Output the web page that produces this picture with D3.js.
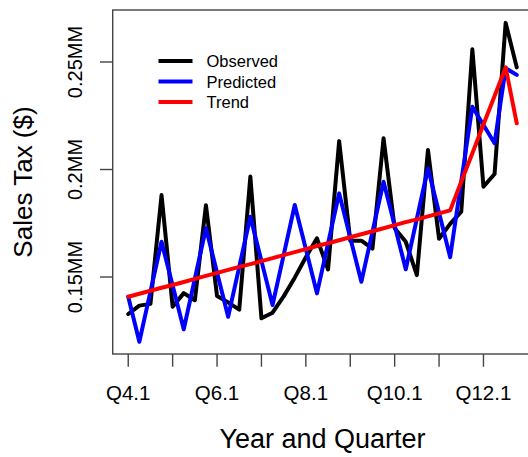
<!DOCTYPE html>
<html>
<head>
<meta charset="utf-8">
<script src="https://cdn.jsdelivr.net/npm/d3@7"></script>
<style>
  html, body { margin: 0; padding: 0; background: #fff; }
  svg { display: block; }
  text { font-family: "Liberation Sans", Arial, sans-serif; fill: #000; }
</style>
</head>
<body>
<svg id="chart" width="528" height="457"></svg>
<script>
// ---- data (values in millions of $) ----
const quarterLabels = ["Q4.1","Q4.2","Q4.3","Q4.4","Q5.1","Q5.2","Q5.3","Q5.4","Q6.1","Q6.2","Q6.3","Q6.4",
  "Q7.1","Q7.2","Q7.3","Q7.4","Q8.1","Q8.2","Q8.3","Q8.4","Q9.1","Q9.2","Q9.3","Q9.4",
  "Q10.1","Q10.2","Q10.3","Q10.4","Q11.1","Q11.2","Q11.3","Q11.4","Q12.1","Q12.2","Q12.3","Q12.4"];
const observed = [0.1328,0.1367,0.1375,0.1881,0.1362,0.1425,0.1392,0.1834,0.1412,0.1382,0.1348,0.1967,
  0.1308,0.1334,0.1410,0.1497,0.1592,0.1680,0.1535,0.2132,0.1669,0.1669,0.1632,0.2145,
  0.1727,0.1664,0.1509,0.2091,0.1678,0.1747,0.1804,0.2559,0.1920,0.1979,0.2682,0.2475];
const predicted = [0.1408,0.1199,0.1432,0.1664,0.1460,0.1257,0.1492,0.1727,0.1521,0.1315,0.1547,0.1780,
  0.1575,0.1370,0.1602,0.1835,0.1630,0.1424,0.1656,0.1889,0.1683,0.1478,0.1710,0.1943,
  0.1740,0.1536,0.1771,0.2006,0.1799,0.1592,0.1945,0.2292,0.2207,0.2122,0.2471,0.2440];
const trend = [0.1408,0.1422,0.1436,0.1450,0.1463,0.1477,0.1491,0.1505,0.1519,0.1533,0.1547,0.1560,
  0.1574,0.1588,0.1602,0.1616,0.1630,0.1644,0.1657,0.1671,0.1685,0.1699,0.1713,0.1727,
  0.1741,0.1755,0.1768,0.1782,0.1796,0.1810,0.1943,0.2076,0.2209,0.2342,0.2475,0.2215];
const xTickIndex = [0,4,8,12,16,20,24,28,32];
const xTickLabels = ["Q4.1","","Q6.1","","Q8.1","","Q10.1","","Q12.1"];
const yTickValues = [0.15,0.20,0.25];
const yTickLabels = ["0.15MM","0.2MM","0.25MM"];
const seriesNames = ["Observed","Predicted","Trend"];
const seriesColors = ["#000000","#0000ff","#ff0000"];

// ---- layout ----
const svg = d3.select("#chart");
const L = 112.7, T = 10, B = 354, R = 532.3;
const n = observed.length;
const pad = 0.04 * (n - 1);
const x = d3.scaleLinear().domain([-pad, n - 1 + pad]).range([L, R]);
const y = d3.scaleLinear().domain([0.11419, 0.27419]).range([B, T]);

// box
svg.append("rect").attr("x", L).attr("y", T).attr("width", R - L).attr("height", B - T)
  .attr("fill", "none").attr("stroke", "#444").attr("stroke-width", 1.4);

// x axis ticks
const xAxis = svg.append("g");
xAxis.selectAll("line").data(xTickIndex).join("line")
  .attr("x1", d => x(d)).attr("x2", d => x(d))
  .attr("y1", B).attr("y2", B + 12.7)
  .attr("stroke", "#444").attr("stroke-width", 1.4);
xAxis.selectAll("text").data(xTickIndex).join("text")
  .attr("x", d => x(d)).attr("y", 400)
  .attr("text-anchor", "middle").attr("font-size", 20.5)
  .text((d, i) => xTickLabels[i]);

// y axis ticks
const yAxis = svg.append("g");
yAxis.selectAll("line").data(yTickValues).join("line")
  .attr("x1", L - 12.7).attr("x2", L)
  .attr("y1", d => y(d)).attr("y2", d => y(d))
  .attr("stroke", "#444").attr("stroke-width", 1.4);
yAxis.selectAll("text").data(yTickValues).join("text")
  .attr("transform", d => `translate(82,${y(d)}) rotate(-90)`)
  .attr("text-anchor", "middle").attr("font-size", 20)
  .text((d, i) => yTickLabels[i]);

// axis titles
svg.append("text").attr("x", (L + R) / 2).attr("y", 448)
  .attr("text-anchor", "middle").attr("font-size", 27).text("Year and Quarter");
svg.append("text").attr("transform", `translate(32,${(T + B) / 2}) rotate(-90)`)
  .attr("text-anchor", "middle").attr("font-size", 26).text("Sales Tax ($)");

// lines
svg.append("defs").append("clipPath").attr("id", "clip")
  .append("rect").attr("x", L).attr("y", T).attr("width", R - L).attr("height", B - T);
const line = d3.line().x((d, i) => x(i)).y(d => y(d));
const series = [observed, predicted, trend];
svg.append("g").attr("clip-path", "url(#clip)")
  .selectAll("path").data(series).join("path")
  .attr("d", d => line(d))
  .attr("fill", "none")
  .attr("stroke", (d, i) => seriesColors[i])
  .attr("stroke-width", 4)
  .attr("stroke-linejoin", "round")
  .attr("stroke-linecap", "round");

// legend
const lg = svg.append("g");
const legY = [61, 81.5, 102];
seriesNames.forEach((name, i) => {
  lg.append("line").attr("x1", 158.5).attr("x2", 192.5)
    .attr("y1", legY[i]).attr("y2", legY[i])
    .attr("stroke", seriesColors[i]).attr("stroke-width", 4);
  lg.append("text").attr("x", 206.5).attr("y", legY[i] + 6)
    .attr("font-size", 16.5).text(name);
});
</script>
</body>
</html>
